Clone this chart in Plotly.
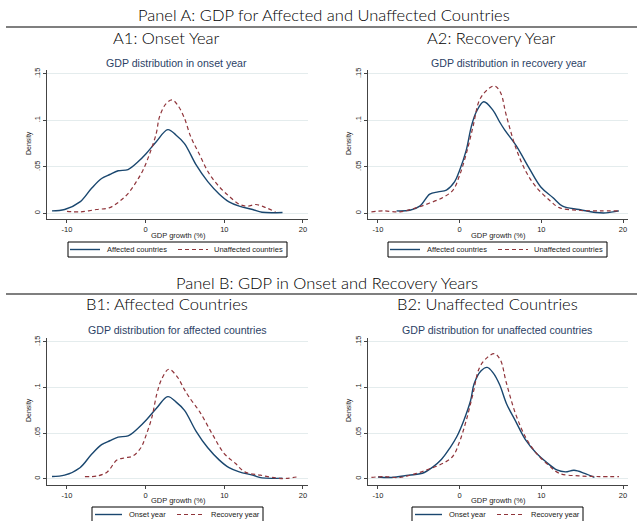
import plotly.graph_objects as go

# ---------------- data ----------------
# Kernel density of GDP growth (%) - affected countries, onset year
aff_onset_x = [-11.9, -10.3, -8.35, -6.9, -5.6, -4.56, -3.5, -2.24, -0.97, 0.08, 1.35, 2.82, 3.88, 4.94, 6.42, 7.9, 9.37, 10.6, 11.9, 13.6, 14.8, 17.4]
aff_onset_y = [0.0025, 0.004, 0.0122, 0.0266, 0.0374, 0.0417, 0.0457, 0.047, 0.0554, 0.0644, 0.077, 0.090, 0.084, 0.075, 0.052, 0.034, 0.0205, 0.0122, 0.0076, 0.004, 0.001, 0.0008]

# unaffected countries, onset year
unaff_onset_x = [-10.0, -8.35, -6.24, -4.56, -3.3, -2.24, -1.18, -0.34, 0.51, 1.35, 1.77, 2.6, 3.37, 4.1, 4.9, 5.75, 6.8, 8.05, 9.37, 10.6, 11.9, 12.95, 14.0, 15.3, 16.5]
unaff_onset_y = [0.002, 0.0015, 0.004, 0.0061, 0.0129, 0.0212, 0.034, 0.0464, 0.064, 0.086, 0.104, 0.118, 0.122, 0.116, 0.103, 0.082, 0.064, 0.043, 0.0284, 0.0184, 0.0097, 0.0076, 0.0094, 0.006, 0.0015]

# affected countries, recovery year
aff_rec_x = [-7.72, -6.1, -4.88, -3.66, -2.64, -1.62, -0.61, 0.0, 0.81, 1.42, 2.03, 2.95, 4.07, 4.88, 5.49, 6.9, 8.54, 9.96, 11.4, 12.6, 14.6, 16.7, 17.9, 19.5]
aff_rec_y = [0.0025, 0.0032, 0.0076, 0.0205, 0.023, 0.025, 0.034, 0.0464, 0.068, 0.093, 0.109, 0.120, 0.111, 0.0985, 0.090, 0.073, 0.048, 0.028, 0.017, 0.0076, 0.004, 0.0008, 0.0004, 0.0025]

# unaffected countries, recovery year
unaff_rec_x = [-10.8, -9.35, -7.3, -5.28, -3.66, -2.03, -0.81, 0.0, 0.81, 1.63, 2.44, 3.4, 4.27, 5.0, 5.69, 6.9, 8.13, 9.35, 11.0, 12.2, 14.6, 17.1, 19.5]
unaff_rec_y = [0.0015, 0.0025, 0.0015, 0.006, 0.011, 0.017, 0.025, 0.041, 0.064, 0.093, 0.122, 0.133, 0.137, 0.130, 0.106, 0.0698, 0.0446, 0.0284, 0.014, 0.006, 0.0032, 0.0025, 0.0025]

y_tickvals = [0, 0.05, 0.1, 0.15]
y_ticktext = ["0", ".05", ".1", ".15"]
x_tickvals = [-10, 0, 10, 20]
x_ticktext = ["-10", "0", "10", "20"]

panel_titles = ["Panel A: GDP for Affected and Unaffected Countries",
                "Panel B: GDP in Onset and Recovery Years"]
sub_titles = ["A1: Onset Year", "A2: Recovery Year",
              "B1: Affected Countries", "B2: Unaffected Countries"]
graph_titles = ["GDP distribution in onset year", "GDP distribution in recovery year",
                "GDP distribution for affected countries", "GDP distribution for unaffected countries"]
legend_names = [("Affected countries", "Unaffected countries"),
                ("Affected countries", "Unaffected countries"),
                ("Onset year", "Recovery year"),
                ("Onset year", "Recovery year")]
x_title = "GDP growth (%)"
y_title = "Density"

# which series in each panel: (solid, dashed)
panels = [
    ((aff_onset_x, aff_onset_y), (unaff_onset_x, unaff_onset_y)),
    ((aff_rec_x, aff_rec_y), (unaff_rec_x, unaff_rec_y)),
    ((aff_onset_x, aff_onset_y), (aff_rec_x, aff_rec_y)),
    ((unaff_onset_x, unaff_onset_y), (unaff_rec_x, unaff_rec_y)),
]

# ---------------- layout geometry ----------------
W, H = 641, 521
BLUE = "#1a476f"
RED = "#90353b"
SANS = "Liberation Sans, Arial, sans-serif"
TEX = "Lato, sans-serif"
DASH = "4px,3px"

def px_x(p):
    return p / W

def px_y(p):
    return 1 - p / H

x_domains = [(47, 308), (368, 628), (47, 308), (368, 628)]
y_domains = [(70, 219), (70, 219), (338, 484.5), (338, 484.5)]
x_ranges = [(-12.54, 20.64), (-11.22, 20.61), (-12.54, 20.64), (-11.22, 20.61)]
y_range = (-0.0062, 0.1542)
graph_title_pos = [(176, 63), (509, 63), (177.5, 330), (497, 330)]
sub_title_pos = [(166, 38), (491, 38), (167, 304), (487, 304)]
xtitle_pos = [(178, 235), (498, 235), (178, 500), (498, 500)]
ytitle_pos = [(29, 143), (349, 143), (29, 410), (349, 410)]
panel_title_pos = [(324, 15), (326.5, 283)]
rule_pos = [27, 294]
# legend key: box (x0, x1, ytop, ybottom), sample1 (x0,x1), text1 x, sample2 (x0,x1), text2 x
legend_boxes = [(68, 287, 242, 257), (388, 607, 242, 257), (92, 263, 507, 522), (412, 583, 507, 522)]
legend_items = [((70, 100), 105, (178, 208), 212),
                ((390, 420), 425, (498, 528), 532),
                ((95, 122), 127, (177, 203), 209),
                ((415, 442), 447, (497, 523), 529)]

fig = go.Figure()
layout = dict(width=W, height=H, margin=dict(l=0, r=0, t=0, b=0, autoexpand=False),
              paper_bgcolor="white", plot_bgcolor="white", showlegend=False)

annotations = []
shapes = []

def ann(text, pos, font, xanchor="center"):
    return dict(text=text, x=px_x(pos[0]), y=px_y(pos[1]), xref="paper", yref="paper",
                showarrow=False, xanchor=xanchor, yanchor="middle", font=font)

for i, (solid, dashed) in enumerate(panels):
    ax = "" if i == 0 else str(i + 1)
    xa, ya = "x" + ax, "y" + ax
    fig.add_trace(go.Scatter(x=solid[0], y=solid[1], mode="lines", name=legend_names[i][0],
                             line=dict(color=BLUE, width=1.4, shape="spline", smoothing=1.0),
                             xaxis=xa, yaxis=ya))
    fig.add_trace(go.Scatter(x=dashed[0], y=dashed[1], mode="lines", name=legend_names[i][1],
                             line=dict(color=RED, width=1.2, dash=DASH, shape="spline", smoothing=1.0),
                             xaxis=xa, yaxis=ya))
    layout["xaxis" + ax] = dict(
        domain=[px_x(x_domains[i][0]), px_x(x_domains[i][1])],
        range=list(x_ranges[i]), anchor=ya, automargin=False,
        tickvals=x_tickvals, ticktext=x_ticktext,
        ticks="outside", ticklen=3, tickcolor="#444", tickwidth=1,
        showline=True, linecolor="#444", linewidth=1, showgrid=False, zeroline=False,
        tickfont=dict(family=SANS, size=7.5, color="#222"),
    )
    layout["yaxis" + ax] = dict(
        domain=[px_y(y_domains[i][1]), px_y(y_domains[i][0])],
        range=list(y_range), anchor=xa, automargin=False,
        tickvals=y_tickvals, ticktext=y_ticktext, tickangle=-90,
        ticks="outside", ticklen=3, tickcolor="#444", tickwidth=1,
        showline=True, linecolor="#444", linewidth=1,
        showgrid=True, gridcolor="#e4eced", gridwidth=1, zeroline=False,
        tickfont=dict(family=SANS, size=7.5, color="#222"),
    )
    annotations.append(ann(graph_titles[i], graph_title_pos[i], dict(family=SANS, size=10.6, color="#2c3f66")))
    annotations.append(ann(sub_titles[i], sub_title_pos[i], dict(family=TEX, size=16.5, color="black", weight=300)))
    annotations.append(ann(x_title, xtitle_pos[i], dict(family=SANS, size=7.5, color="#222")))
    a = ann(y_title, ytitle_pos[i], dict(family=SANS, size=7, color="#222"))
    a["textangle"] = -90
    annotations.append(a)

    # legend key
    bx0, bx1, by0, by1 = legend_boxes[i]
    shapes.append(dict(type="rect", xref="paper", yref="paper", x0=px_x(bx0), x1=px_x(bx1),
                       y0=px_y(by1), y1=px_y(by0), line=dict(color="black", width=1), fillcolor="white"))
    ymid = (by0 + by1) / 2
    (s1, t1, s2, t2) = legend_items[i]
    shapes.append(dict(type="line", xref="paper", yref="paper", x0=px_x(s1[0]), x1=px_x(s1[1]),
                       y0=px_y(ymid), y1=px_y(ymid), line=dict(color=BLUE, width=1.4)))
    shapes.append(dict(type="line", xref="paper", yref="paper", x0=px_x(s2[0]), x1=px_x(s2[1]),
                       y0=px_y(ymid), y1=px_y(ymid), line=dict(color=RED, width=1.2, dash=DASH)))
    annotations.append(ann(legend_names[i][0], (t1, ymid), dict(family=SANS, size=7.5, color="#222"), "left"))
    annotations.append(ann(legend_names[i][1], (t2, ymid), dict(family=SANS, size=7.5, color="#222"), "left"))

for j in range(2):
    annotations.append(ann(panel_titles[j], panel_title_pos[j], dict(family=TEX, size=16.5, color="black", weight=300)))
    shapes.append(dict(type="line", xref="paper", yref="paper", x0=px_x(6), x1=px_x(637),
                       y0=px_y(rule_pos[j]), y1=px_y(rule_pos[j]), line=dict(color="#555", width=1.5)))

layout["annotations"] = annotations
layout["shapes"] = shapes
fig.update_layout(**layout)
fig.write_html("out.html", config={"displayModeBar": False, "staticPlot": True},
               post_script="document.body.style.margin='0';document.body.style.overflow='hidden';")
